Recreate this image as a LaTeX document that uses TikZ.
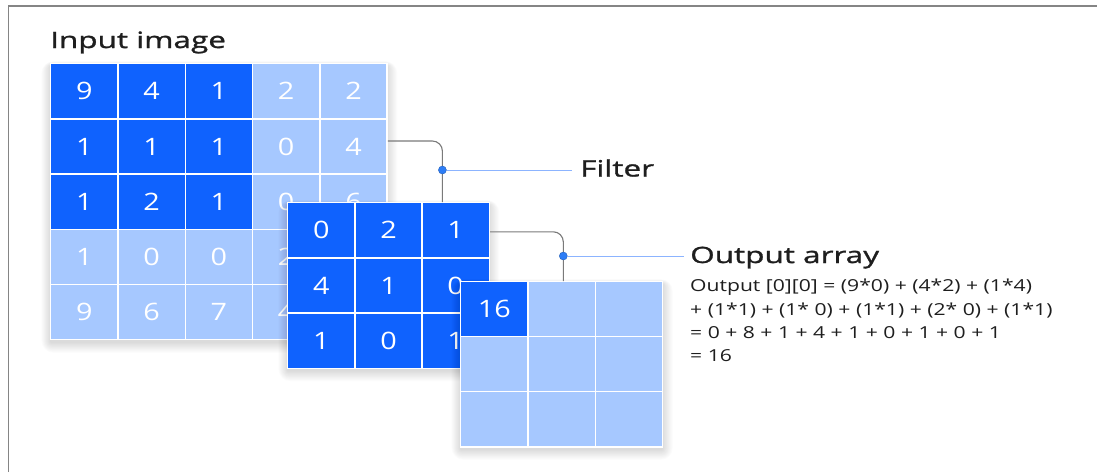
\documentclass[tikz,border=0pt]{standalone}
\usepackage{fontspec}
\setmainfont{Open Sans}
\newfontfamily\titlefont[FakeBold=1.2, FakeStretch=1.4]{Open Sans}
\newfontfamily\eqfont[FakeStretch=1.28]{Open Sans}
\newfontfamily\cellfont[FakeStretch=1.2]{Open Sans}
\usetikzlibrary{calc}
\definecolor{bdark}{HTML}{0F62FE}
\definecolor{blight}{HTML}{A6C8FF}
\definecolor{conngray}{HTML}{7A7A7A}
\definecolor{dotblue}{HTML}{2D7DF6}
\definecolor{leadblue}{HTML}{8CB4FF}
\definecolor{txt}{HTML}{1E1E1E}
\newcommand\gridshadow[4]{%
  \foreach \i in {1,...,12}{%
    \fill[black, opacity=0.011, rounded corners=\i pt]
      (#1-\i*0.8+1, #2-\i*0.4+3) rectangle (#3+\i*0.9, #4+\i*0.9+3);}}
\begin{document}
\begin{tikzpicture}[x=1pt,y=-1pt,
  cell/.style={draw=white, line width=1.4pt, minimum width=67.2pt, minimum height=55.2pt,
    inner sep=0pt, anchor=north west, text=white, font=\cellfont\fontsize{24}{24}\selectfont},
  dcell/.style={cell, fill=bdark},
  lcell/.style={cell, fill=blight},
  conn/.style={draw=conngray, line width=1.1pt, rounded corners=10pt},
  lead/.style={draw=leadblue, line width=1pt},
  dot/.style={circle, fill=dotblue, draw=dotblue!75!black, line width=0.4pt, minimum size=8pt, inner sep=0pt},
  title/.style={anchor=base west, inner sep=0pt, text=txt, font=\titlefont\fontsize{22.5}{22.5}\selectfont},
  eq/.style={anchor=base west, inner sep=0pt, text=txt, font=\eqfont\fontsize{16.5}{16.5}\selectfont}]
\useasboundingbox (0,0) rectangle (1097,472);
\fill[white] (0,0) rectangle (1097,472);
% frame
\draw[draw=black!48, line width=1.2pt] (8.5,472) -- (8.5,6) -- (1097,6);
% titles
\node[title] (intitle) at (50,48) {Input image};
% input grid
\gridshadow{50}{63}{386.5}{339}
\foreach \row [count=\r from 0] in {{9,4,1,2,2},{1,1,1,0,4},{1,2,1,0,6},{1,0,0,2,{}},{9,6,7,4,{}}}{
  \foreach \v [count=\c from 0] in \row {
    \pgfmathtruncatemacro\isd{(\r<3)&&(\c<3)}
    \ifnum\isd=1 \def\st{dcell}\else\def\st{lcell}\fi
    \node[\st] (in-\r-\c) at (50+67.3*\c, 63+55.2*\r) {\v};
  }
}
% filter grid
\gridshadow{287}{202}{488.5}{367.5}
\foreach \row [count=\r from 0] in {{0,2,1},{4,1,0},{1,0,1}}{
  \foreach \v [count=\c from 0] in \row {
    \node[dcell] (fil-\r-\c) at (287+67.2*\c, 202+55.2*\r) {\v};
  }
}
% output grid
\gridshadow{460}{281}{662}{446}
\foreach \row [count=\r from 0] in {{16,{},{}},{{},{},{}},{{},{},{}}}{
  \foreach \v [count=\c from 0] in \row {
    \pgfmathtruncatemacro\isd{(\r<1)&&(\c<1)}
    \ifnum\isd=1 \def\st{dcell}\else\def\st{lcell}\fi
    \node[\st] (out-\r-\c) at (460+67.3*\c, 281+55*\r) {\v};
  }
}
% filter connector
\coordinate (f0) at ($(in-1-4.east)+(0,-5.5)$);
\coordinate (f1) at ($(fil-0-2.north west)+(21,0)$);
\draw[conn] (f0) -| (f1);
\node[dot] (fdot) at ($(f1)+(0,-32)$) {};
\node[title] (filtlab) at (580,176.5) {Filter};
\draw[lead] (fdot.east) -- ($(filtlab.west |- fdot.east)+(-8,0)$);
% output connector
\coordinate (o0) at ($(fil-0-2.east)+(0,1.5)$);
\coordinate (o1) at ($(out-0-1.north west)+(36,0)$);
\draw[conn] (o0) -| (o1);
\node[dot] (odot) at ($(o1)+(0,-25)$) {};
\node[title] (outlab) at (690,263) {Output array};
\draw[lead] (odot.east) -- ($(outlab.west |- odot.east)+(-6,0)$);
% equation
\node[eq] (eq1) at (690,291.7) {Output [0][0] = (9*0) + (4*2) + (1*4)};
\node[eq] (eq2) at (690,315) {+ (1*1) + (1* 0) + (1*1) + (2* 0) + (1*1)};
\node[eq] (eq3) at (690,338.3) {= 0 + 8 + 1 + 4 + 1 + 0 + 1 + 0 + 1};
\node[eq] (eq4) at (690,361.7) {= 16};
\end{tikzpicture}
\end{document}
